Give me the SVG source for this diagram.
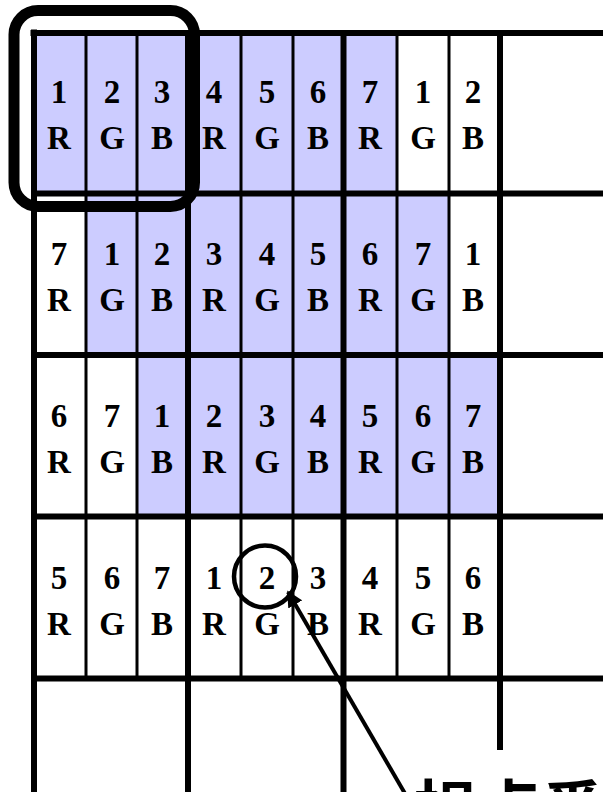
<svg xmlns="http://www.w3.org/2000/svg" width="603" height="792" viewBox="0 0 603 792">
<defs>
<style>
.sh{fill:#CCCCFF}
.t{font-family:"Liberation Serif","Times New Roman",serif;font-weight:bold;font-size:33px;text-anchor:middle;fill:#000}
.thk{stroke:#000;stroke-width:6;fill:none}
.thn{stroke:#000;stroke-width:3;fill:none}
.lbl{font-family:"Noto Sans CJK JP","Noto Sans CJK SC",sans-serif;font-weight:bold;font-size:64px;fill:#000}
</style>
<marker id="ah" viewBox="0 0 10 10" refX="9" refY="5" markerWidth="4" markerHeight="4" orient="auto">
<path d="M0,0 L10,5 L0,10 z" fill="#000"/>
</marker>
</defs>
<rect width="603" height="792" fill="#fff"/>
<g id="shading">
<rect class="sh" x="34" y="33" width="363" height="160.5"/>
<rect class="sh" x="86" y="193.5" width="363" height="161.5"/>
<rect class="sh" x="137" y="355" width="363" height="161.5"/>
</g>
<g id="grid">
<line class="thn" x1="86" y1="30" x2="86" y2="679"/>
<line class="thn" x1="137" y1="30" x2="137" y2="679"/>
<line class="thn" x1="241" y1="30" x2="241" y2="679"/>
<line class="thn" x1="293" y1="30" x2="293" y2="679"/>
<line class="thn" x1="397" y1="30" x2="397" y2="679"/>
<line class="thn" x1="449" y1="30" x2="449" y2="679"/>
<line class="thk" x1="188" y1="30" x2="188" y2="792" stroke-width="5.5"/>
<line class="thk" x1="343.5" y1="30" x2="343.5" y2="792" stroke-width="5.5"/>
<line class="thk" x1="500" y1="30" x2="500" y2="750" stroke-width="5.5"/>
<line class="thk" x1="30.5" y1="33" x2="603" y2="33" stroke-width="7"/>
<line class="thk" x1="31" y1="193.5" x2="603" y2="193.5"/>
<line class="thk" x1="31" y1="355" x2="603" y2="355"/>
<line class="thk" x1="31" y1="516.5" x2="603" y2="516.5"/>
<line class="thk" x1="31" y1="678.5" x2="603" y2="678.5"/>
<line class="thk" x1="34" y1="29.5" x2="34" y2="792" stroke-width="7"/>
</g>
<g id="row1">
<text class="t" x="59" y="103">1</text><text class="t" x="59" y="149">R</text>
<text class="t" x="112" y="103">2</text><text class="t" x="112" y="149">G</text>
<text class="t" x="162" y="103">3</text><text class="t" x="162" y="149">B</text>
<text class="t" x="214" y="103">4</text><text class="t" x="214" y="149">R</text>
<text class="t" x="267" y="103">5</text><text class="t" x="267" y="149">G</text>
<text class="t" x="318" y="103">6</text><text class="t" x="318" y="149">B</text>
<text class="t" x="370" y="103">7</text><text class="t" x="370" y="149">R</text>
<text class="t" x="423" y="103">1</text><text class="t" x="423" y="149">G</text>
<text class="t" x="473" y="103">2</text><text class="t" x="473" y="149">B</text>
</g>
<g id="row2">
<text class="t" x="59" y="265">7</text><text class="t" x="59" y="311">R</text>
<text class="t" x="112" y="265">1</text><text class="t" x="112" y="311">G</text>
<text class="t" x="162" y="265">2</text><text class="t" x="162" y="311">B</text>
<text class="t" x="214" y="265">3</text><text class="t" x="214" y="311">R</text>
<text class="t" x="267" y="265">4</text><text class="t" x="267" y="311">G</text>
<text class="t" x="318" y="265">5</text><text class="t" x="318" y="311">B</text>
<text class="t" x="370" y="265">6</text><text class="t" x="370" y="311">R</text>
<text class="t" x="423" y="265">7</text><text class="t" x="423" y="311">G</text>
<text class="t" x="473" y="265">1</text><text class="t" x="473" y="311">B</text>
</g>
<g id="row3">
<text class="t" x="59" y="427">6</text><text class="t" x="59" y="473">R</text>
<text class="t" x="112" y="427">7</text><text class="t" x="112" y="473">G</text>
<text class="t" x="162" y="427">1</text><text class="t" x="162" y="473">B</text>
<text class="t" x="214" y="427">2</text><text class="t" x="214" y="473">R</text>
<text class="t" x="267" y="427">3</text><text class="t" x="267" y="473">G</text>
<text class="t" x="318" y="427">4</text><text class="t" x="318" y="473">B</text>
<text class="t" x="370" y="427">5</text><text class="t" x="370" y="473">R</text>
<text class="t" x="423" y="427">6</text><text class="t" x="423" y="473">G</text>
<text class="t" x="473" y="427">7</text><text class="t" x="473" y="473">B</text>
</g>
<g id="row4">
<text class="t" x="59" y="589">5</text><text class="t" x="59" y="635">R</text>
<text class="t" x="112" y="589">6</text><text class="t" x="112" y="635">G</text>
<text class="t" x="162" y="589">7</text><text class="t" x="162" y="635">B</text>
<text class="t" x="214" y="589">1</text><text class="t" x="214" y="635">R</text>
<text class="t" x="267" y="589">2</text><text class="t" x="267" y="635">G</text>
<text class="t" x="318" y="589">3</text><text class="t" x="318" y="635">B</text>
<text class="t" x="370" y="589">4</text><text class="t" x="370" y="635">R</text>
<text class="t" x="423" y="589">5</text><text class="t" x="423" y="635">G</text>
<text class="t" x="473" y="589">6</text><text class="t" x="473" y="635">B</text>
</g>
<g id="highlight">
<rect x="14" y="10.5" width="180.5" height="196" rx="24" ry="24" fill="none" stroke="#000" stroke-width="11"/>
</g>
<g id="viewpoint-circle">
<circle cx="265" cy="576.5" r="31" fill="none" stroke="#000" stroke-width="4.5"/>
</g>
<g id="label">
<text class="lbl" x="413" y="833">視点番号</text>
</g>
<g id="connectors">
<line x1="407" y1="797" x2="288" y2="592" stroke="#000" stroke-width="4" marker-end="url(#ah)"/>
</g>
</svg>
